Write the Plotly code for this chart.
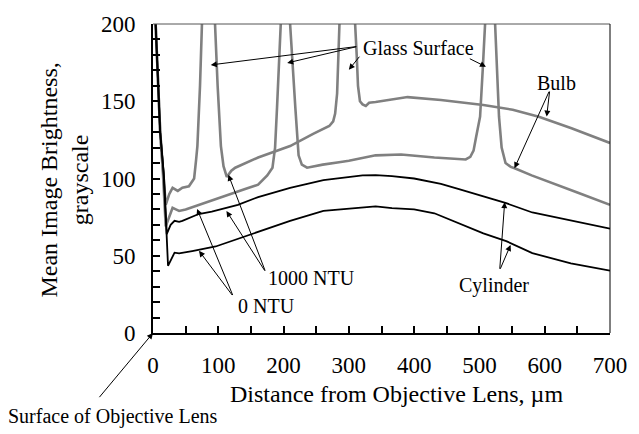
import plotly.graph_objects as go

# ---- data ----
bulb_1000_x = [0, 4, 11, 15, 19.5, 25, 30, 38, 45, 55, 63, 66, 68, 72, 75, 85, 95, 99, 104, 108,
               113, 120, 126, 161, 210, 246, 270, 276, 279, 282, 284, 286, 298, 309, 312, 314, 317,
               321, 326, 331, 341, 390, 441, 506, 551, 591, 641, 700]
bulb_1000_y = [260, 200, 130, 110, 83, 90, 94, 92, 94, 95, 100, 112, 121, 160, 200, 260, 200, 160, 121, 108,
               101, 105, 107, 113.6, 121, 129, 134, 137, 142, 155, 180, 205, 260, 205, 180, 160, 150,
               148, 147, 149, 149.5, 152.7, 150.8, 147.6, 144.5, 140, 132.5, 123]

bulb_0_x = [0, 4, 11, 15, 19.5, 25, 30, 35, 40, 50, 70, 95, 120, 140, 161, 175, 183, 187, 190, 192,
            194, 202, 210, 214, 218, 223, 228, 236, 260, 285, 300, 341, 380, 431, 479, 486, 491, 495,
            501, 505, 509, 516, 524, 527, 530, 534, 540, 548, 554, 580, 606, 650, 700]
bulb_0_y = [260, 200, 130, 105, 69, 76, 81, 80, 79, 80, 83, 86.5, 90, 93, 96, 102, 107, 120, 146, 170,
            200, 260, 200, 170, 146, 115, 109, 107, 109, 110.5, 111.5, 115, 115.5, 113.6, 112.3, 114, 118, 127,
            140, 170, 200, 260, 200, 170, 140, 120, 110, 107.5, 106.6, 102, 98, 91, 83]

cyl_1000_x = [0, 4, 11, 16, 21, 27, 33, 40, 45, 70, 90, 130, 161, 210, 261, 321, 341, 366, 400, 441,
              470, 506, 541, 581, 640, 700]
cyl_1000_y = [260, 200, 130, 105, 64, 70, 72.6, 72, 72.6, 77, 78.5, 83, 88, 94, 99, 102, 102.2, 101.6, 100, 96.5,
              93, 88.5, 84, 78, 73, 67.5]

cyl_0_x = [0, 4, 11, 17, 23, 28, 33, 40, 45, 60, 96, 130, 161, 210, 261, 321, 341, 366, 400, 431,
           470, 506, 541, 581, 640, 700]
cyl_0_y = [260, 200, 130, 100, 43.5, 48, 52, 51.5, 52, 53, 56, 61, 65.5, 72.6, 79, 81.4, 82, 80.8, 80, 77.5,
           71, 64.5, 59.5, 51.7, 45, 40.3]

x_ticks = [0, 100, 200, 300, 400, 500, 600, 700]
y_ticks = [0, 50, 100, 150, 200]

GRAY = "#808080"
FONT = "Liberation Serif"

fig = go.Figure()
fig.add_trace(go.Scatter(x=bulb_1000_x, y=bulb_1000_y, mode="lines", line=dict(color=GRAY, width=2.6)))
fig.add_trace(go.Scatter(x=bulb_0_x, y=bulb_0_y, mode="lines", line=dict(color=GRAY, width=2.6)))
fig.add_trace(go.Scatter(x=cyl_1000_x, y=cyl_1000_y, mode="lines", line=dict(color="black", width=1.8)))
fig.add_trace(go.Scatter(x=cyl_0_x, y=cyl_0_y, mode="lines", line=dict(color="black", width=1.8)))

# arrows: (head_x, head_y, tail_x, tail_y)
arrows = [
    (88.5, 173.5, 313.6, 185.5),
    (205.6, 174.8, 313.6, 185.5),
    (300, 170.4, 318, 179.8),
    (510, 172.3, 483, 178),
    (553.7, 106.7, 607.7, 157.2),
    (603, 140.1, 607.7, 157.2),
    (538.7, 84.7, 531, 40.6),
    (547.7, 57, 531, 40.6),
    (112.5, 79, 172.6, 39.4),
    (115.5, 102.4, 172.6, 39.4),
    (67.5, 80.3, 123, 23.6),
    (70.5, 53.2, 123, 23.6),
    (0, 0, -84, -42.5),
]
for hx, hy, tx, ty in arrows:
    fig.add_annotation(x=hx, y=hy, ax=tx, ay=ty, xref="x", yref="y", axref="x", ayref="y",
                       text="", showarrow=True, arrowhead=2, arrowsize=1.2, arrowwidth=1,
                       arrowcolor="black", standoff=0, startstandoff=0)

labels = [
    ("Glass Surface", 406.7, 184.3),
    ("Bulb", 618, 161.6),
    ("Cylinder", 522, 31),
    ("1000 NTU", 243, 35.6),
    ("0 NTU", 174, 17.3),
]
for t, x, y in labels:
    fig.add_annotation(x=x, y=y, xref="x", yref="y", text=t, showarrow=False,
                       font=dict(family=FONT, size=20, color="black"),
                       xanchor="center", yanchor="middle")

fig.add_annotation(x=(112 - 153) / 466.5, y=-(418 - 332.5) / 317.5, xref="paper", yref="paper",
                   text="Surface of Objective Lens", showarrow=False,
                   font=dict(family=FONT, size=20, color="black"), xanchor="center", yanchor="middle")

# axis titles
fig.add_annotation(x=(402 - 153) / 466.5, y=-(395 - 332.5) / 317.5, xref="paper", yref="paper",
                   text="Distance from Objective Lens, µm", showarrow=False,
                   font=dict(family=FONT, size=24, color="black"), xanchor="center", yanchor="middle")
fig.add_annotation(x=(63 - 153) / 466.5, y=(332.5 - 175) / 317.5, xref="paper", yref="paper",
                   text="Mean Image Brightness,<br>grayscale", showarrow=False, textangle=-90,
                   font=dict(family=FONT, size=24, color="black"), xanchor="center", yanchor="middle")

# top and right border
fig.add_shape(type="line", xref="paper", yref="paper", x0=0, x1=1, y0=1, y1=1,
              line=dict(color="#555555", width=1))
fig.add_shape(type="line", xref="paper", yref="paper", x0=1, x1=1, y0=0, y1=1,
              line=dict(color="black", width=1))

fig.update_layout(
    width=639, height=434,
    margin=dict(l=153, r=20, t=15, b=101),
    plot_bgcolor="white", paper_bgcolor="white",
    showlegend=False,
    font=dict(family=FONT, color="black"),
)
fig.update_xaxes(range=[0, 700], tickvals=x_ticks, ticktext=[str(v) for v in x_ticks],
                 ticks="inside", ticklen=7, tickwidth=1.5, tickcolor="black",
                 minor=dict(ticks="inside", dtick=50, tick0=0, ticklen=7, tickwidth=1.5, tickcolor="black"),
                 showline=True, linecolor="black", linewidth=2, showgrid=False, zeroline=False,
                 tickfont=dict(family=FONT, size=23, color="black"), ticklabelstandoff=10)
fig.update_yaxes(range=[0, 200], tickvals=y_ticks, ticktext=[str(v) for v in y_ticks],
                 ticks="inside", ticklen=7, tickwidth=1.5, tickcolor="black",
                 minor=dict(ticks="inside", dtick=10, tick0=0, ticklen=7, tickwidth=1.5, tickcolor="black"),
                 showline=True, linecolor="black", linewidth=2, showgrid=False, zeroline=False,
                 tickfont=dict(family=FONT, size=23, color="black"), ticklabelstandoff=11)

fig.write_html("out.html", config={"displayModeBar": False},
               post_script="document.body.style.margin='0px';")
